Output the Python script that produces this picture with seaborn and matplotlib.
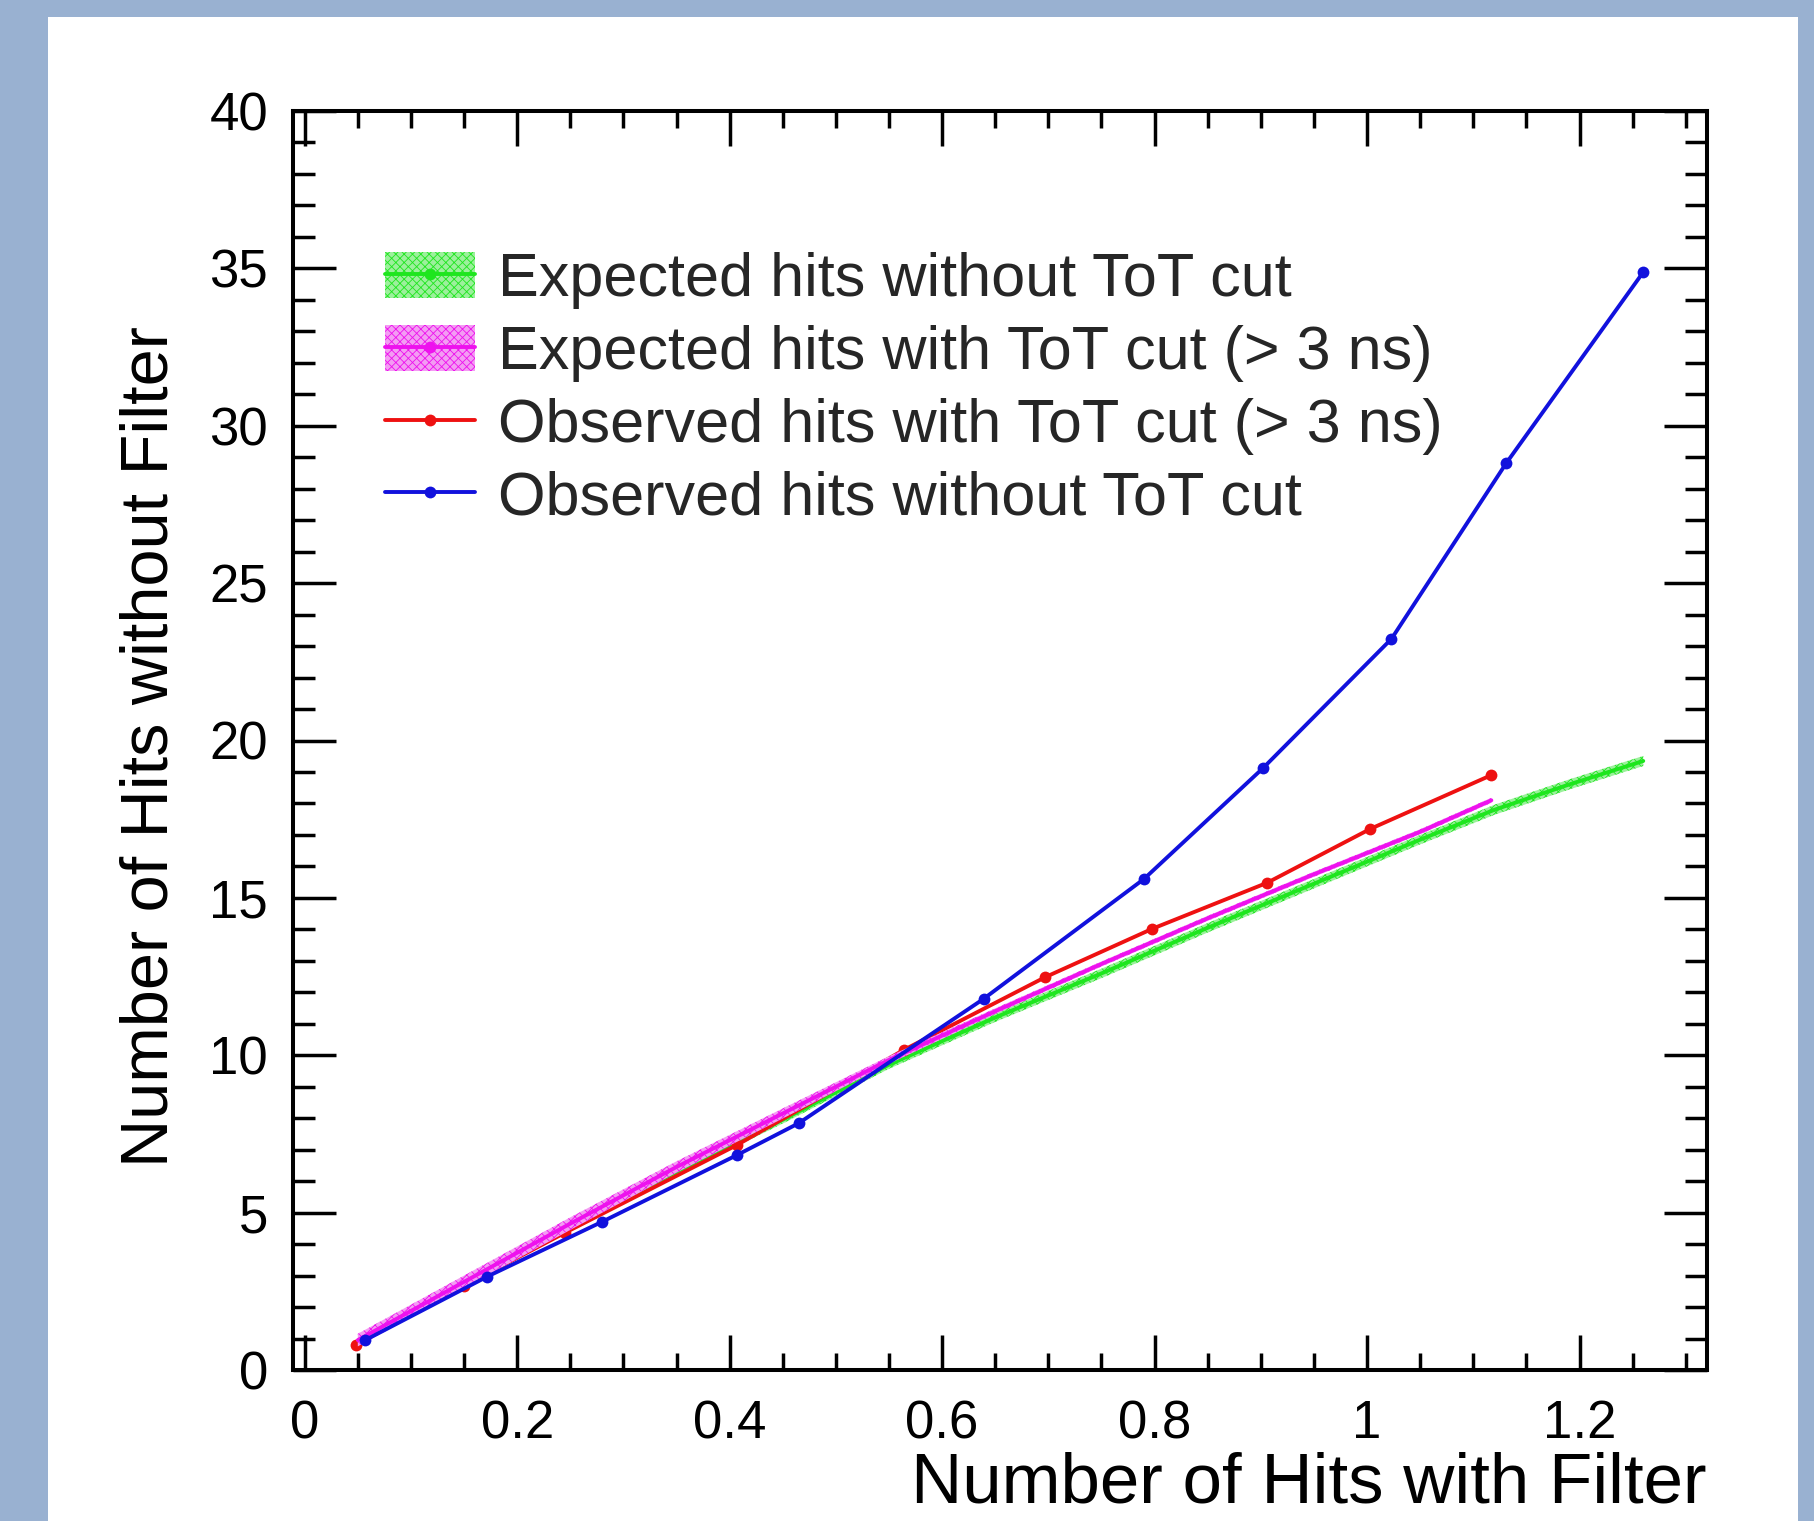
import matplotlib
matplotlib.use("Agg")
import matplotlib.pyplot as plt
import seaborn as sns
import numpy as np
import pandas as pd
from matplotlib.patches import Rectangle, Patch
from matplotlib.lines import Line2D
from matplotlib.ticker import MultipleLocator, FuncFormatter

# ---------------- data ----------------
green_x = [0.05, 0.15, 0.25, 0.35, 0.45, 0.55, 0.65, 0.75, 0.85, 0.95, 1.05, 1.12, 1.19, 1.26]
green_y = [0.90, 2.75, 4.55, 6.30, 7.95, 9.70, 11.20, 12.60, 14.05, 15.45, 16.85, 17.80, 18.60, 19.35]
green_err = [0.12, 0.12, 0.12, 0.12, 0.12, 0.13, 0.14, 0.15, 0.15, 0.15, 0.15, 0.16, 0.16, 0.16]

magenta_x = [0.05, 0.15, 0.25, 0.35, 0.45, 0.55, 0.65, 0.75, 0.85, 0.95, 1.05, 1.117]
magenta_y = [0.95, 2.80, 4.65, 6.45, 8.15, 9.85, 11.40, 12.90, 14.35, 15.75, 17.10, 18.10]
magenta_err = [0.2, 0.2, 0.2, 0.18, 0.16, 0.12, 0.09, 0.08, 0.08, 0.08, 0.08, 0.08]

red_x = [0.048, 0.150, 0.245, 0.407, 0.564, 0.697, 0.798, 0.906, 1.003, 1.117]
red_y = [0.80, 2.68, 4.36, 7.15, 10.17, 12.48, 14.02, 15.48, 17.19, 18.90]

blue_x = [0.057, 0.172, 0.280, 0.407, 0.465, 0.639, 0.790, 0.902, 1.023, 1.131, 1.260]
blue_y = [0.95, 2.97, 4.71, 6.83, 7.84, 11.79, 15.60, 19.12, 23.23, 28.81, 34.88]

labels = [
    "Expected hits without ToT cut",
    "Expected hits with ToT cut (> 3 ns)",
    "Observed hits with ToT cut (> 3 ns)",
    "Observed hits without ToT cut",
]
x_label = "Number of Hits with Filter"
y_label = "Number of Hits without Filter"

# ---------------- style ----------------
sns.set_theme(style="ticks")
plt.rcParams["font.family"] = ["Liberation Sans", "DejaVu Sans"]
plt.rcParams["hatch.linewidth"] = 0.6

C_GREEN = "#1ee61e"
C_MAG = "#ee11ee"
C_RED = "#ee1111"
C_BLUE = "#1111dd"
BAND_GREEN = "#9cf09c"
BAND_MAG = "#f39cf3"

W, H = 1815, 1521
fig = plt.figure(figsize=(W / 100, H / 100), dpi=100, facecolor="#99b1d1")
fig.patches.append(Rectangle((48 / W, 0), (1798 - 48) / W, 1 - 17 / H,
                             transform=fig.transFigure, facecolor="white",
                             edgecolor="none", zorder=-5))

ax = fig.add_axes([293 / W, 1 - 1370 / H, (1707 - 293) / W, (1370 - 111) / H])
ax.set_facecolor("white")
ax.set_zorder(1)

LW = 2.8
MS = 8.5

# bands and lines
gx = np.array(green_x); gy = np.array(green_y); ge = np.array(green_err)
mx = np.array(magenta_x); my = np.array(magenta_y); me = np.array(magenta_err)
ax.fill_between(gx, gy - ge, gy + ge, facecolor=BAND_GREEN, edgecolor=C_GREEN,
                hatch="xxxx", linewidth=0, zorder=2)
sns.lineplot(x=green_x, y=green_y, color=C_GREEN, linewidth=LW, ax=ax, zorder=3)

sns.lineplot(x=red_x, y=red_y, color=C_RED, linewidth=LW, marker="o",
             markersize=MS, markeredgewidth=0, ax=ax, zorder=4)

ax.fill_between(mx, my - me, my + me, facecolor=BAND_MAG, edgecolor=C_MAG,
                hatch="xxxx", linewidth=0, zorder=5)
sns.lineplot(x=magenta_x, y=magenta_y, color=C_MAG, linewidth=LW, ax=ax, zorder=6)

sns.lineplot(x=blue_x, y=blue_y, color=C_BLUE, linewidth=LW, marker="o",
             markersize=MS, markeredgewidth=0, ax=ax, zorder=7)

# axes
ax.set_xlim(-0.011, 1.32)
ax.set_ylim(0, 40)
ax.xaxis.set_major_locator(MultipleLocator(0.2))
ax.xaxis.set_minor_locator(MultipleLocator(0.05))
ax.yaxis.set_major_locator(MultipleLocator(5))
ax.yaxis.set_minor_locator(MultipleLocator(1))
fmt = FuncFormatter(lambda v, p: f"{round(v, 6):g}")
ax.xaxis.set_major_formatter(fmt)
ax.yaxis.set_major_formatter(fmt)
ax.grid(False)

ax.tick_params(which="both", direction="in", top=True, right=True,
               width=2.5, color="black", labelcolor="black")
ax.tick_params(axis="x", which="major", length=25, pad=21, labelsize=38)
ax.tick_params(axis="x", which="minor", length=12)
ax.tick_params(axis="y", which="major", length=31, pad=18, labelsize=38)
ax.tick_params(axis="y", which="minor", length=16)
for s in ax.spines.values():
    s.set_linewidth(2.9)
    s.set_color("black")
    s.set_visible(True)

ax.set_xlabel(x_label, fontsize=51, ha="right", va="baseline", color="black")
ax.xaxis.set_label_coords(1.0, -0.1056)
ax.set_ylabel(y_label, fontsize=48, va="center", color="black")
ax.yaxis.set_label_coords(-0.1005, 0.495)

# legend
h_green = (Patch(facecolor=BAND_GREEN, edgecolor=C_GREEN, hatch="xxxx", linewidth=0),
           Line2D([], [], color=C_GREEN, lw=LW, marker="o", ms=MS, mew=0))
h_mag = (Patch(facecolor=BAND_MAG, edgecolor=C_MAG, hatch="xxxx", linewidth=0),
         Line2D([], [], color=C_MAG, lw=LW, marker="o", ms=MS, mew=0))
h_red = Line2D([], [], color=C_RED, lw=LW, marker="o", ms=MS, mew=0)
h_blue = Line2D([], [], color=C_BLUE, lw=LW, marker="o", ms=MS, mew=0)
ax.legend(handles=[h_green, h_mag, h_red, h_blue], labels=labels,
          loc="upper left", bbox_to_anchor=(0.065, 0.888), frameon=False,
          fontsize=44, handlelength=1.47, handleheight=0.79, handletextpad=0.38,
          labelspacing=0.25, borderpad=0, borderaxespad=0, numpoints=1)

fig.savefig("out.png", dpi=100, facecolor=fig.get_facecolor())
